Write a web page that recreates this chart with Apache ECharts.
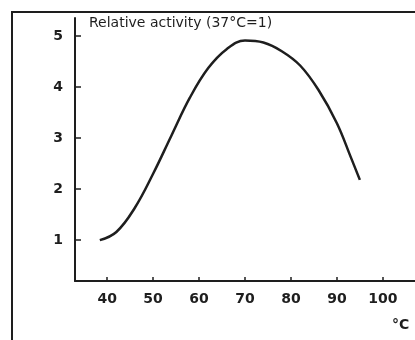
<!DOCTYPE html>
<html>
<head>
<meta charset="utf-8">
<script src="https://cdn.jsdelivr.net/npm/echarts@6/dist/echarts.min.js"></script>
<style>
html,body{margin:0;padding:0;background:#fff;}
#chart{width:415px;height:340px;}
</style>
</head>
<body>
<div id="chart"></div>
<script>
// Data
const temperatures = [38.4, 42, 46, 50, 54, 58, 62, 66, 70, 74, 78, 82, 86, 90, 93, 95];
const activity     = [1.0, 1.16, 1.63, 2.30, 3.05, 3.79, 4.37, 4.74, 4.91, 4.87, 4.70, 4.42, 3.94, 3.29, 2.63, 2.18];
const xTicks = [40, 50, 60, 70, 80, 90, 100];
const yTicks = [1, 2, 3, 4, 5];
const titleText = 'Relative activity (37°C=1)';
const unitText = '°C';

const chart = echarts.init(document.getElementById('chart'), null, {renderer: 'canvas'});
const ink = '#1e1e1e';
const font = 'DejaVu Sans';

chart.setOption({
  animation: false,
  backgroundColor: '#ffffff',
  grid: {left: 75, right: 0, top: 18, bottom: 59, containLabel: false},
  title: {
    text: titleText, left: 84, top: 11,
    textStyle: {fontFamily: font, fontSize: 14, fontWeight: 'normal', color: ink}
  },
  xAxis: {
    type: 'value', min: 33, max: 107,
    axisLine: {lineStyle: {color: ink, width: 2}},
    axisTick: {inside: true, length: 4, customValues: xTicks, lineStyle: {color: ink, width: 1.5}},
    axisLabel: {customValues: xTicks, margin: 11, fontFamily: font, fontSize: 14, fontWeight: 'bold', color: ink},
    splitLine: {show: false}
  },
  yAxis: {
    type: 'value', min: 0.2, max: 5.35,
    axisLine: {show: true, lineStyle: {color: ink, width: 2}},
    axisTick: {show: true, inside: true, length: 6, customValues: yTicks, lineStyle: {color: ink, width: 1.5}},
    axisLabel: {customValues: yTicks, margin: 12, fontFamily: font, fontSize: 14, fontWeight: 'bold', color: ink},
    splitLine: {show: false}
  },
  graphic: [
    {type: 'line', shape: {x1: 11, y1: 12, x2: 415, y2: 12}, style: {stroke: ink, lineWidth: 2}},
    {type: 'line', shape: {x1: 12, y1: 12, x2: 12, y2: 340}, style: {stroke: ink, lineWidth: 2}},
    {type: 'text', left: 392, top: 318, style: {text: unitText, font: 'bold 14px "DejaVu Sans"', fill: ink}}
  ],
  series: [{
    type: 'line',
    data: temperatures.map((t, i) => [t, activity[i]]),
    smooth: 0.4,
    showSymbol: false,
    lineStyle: {color: ink, width: 2.5}
  }]
});
</script>
</body>
</html>
